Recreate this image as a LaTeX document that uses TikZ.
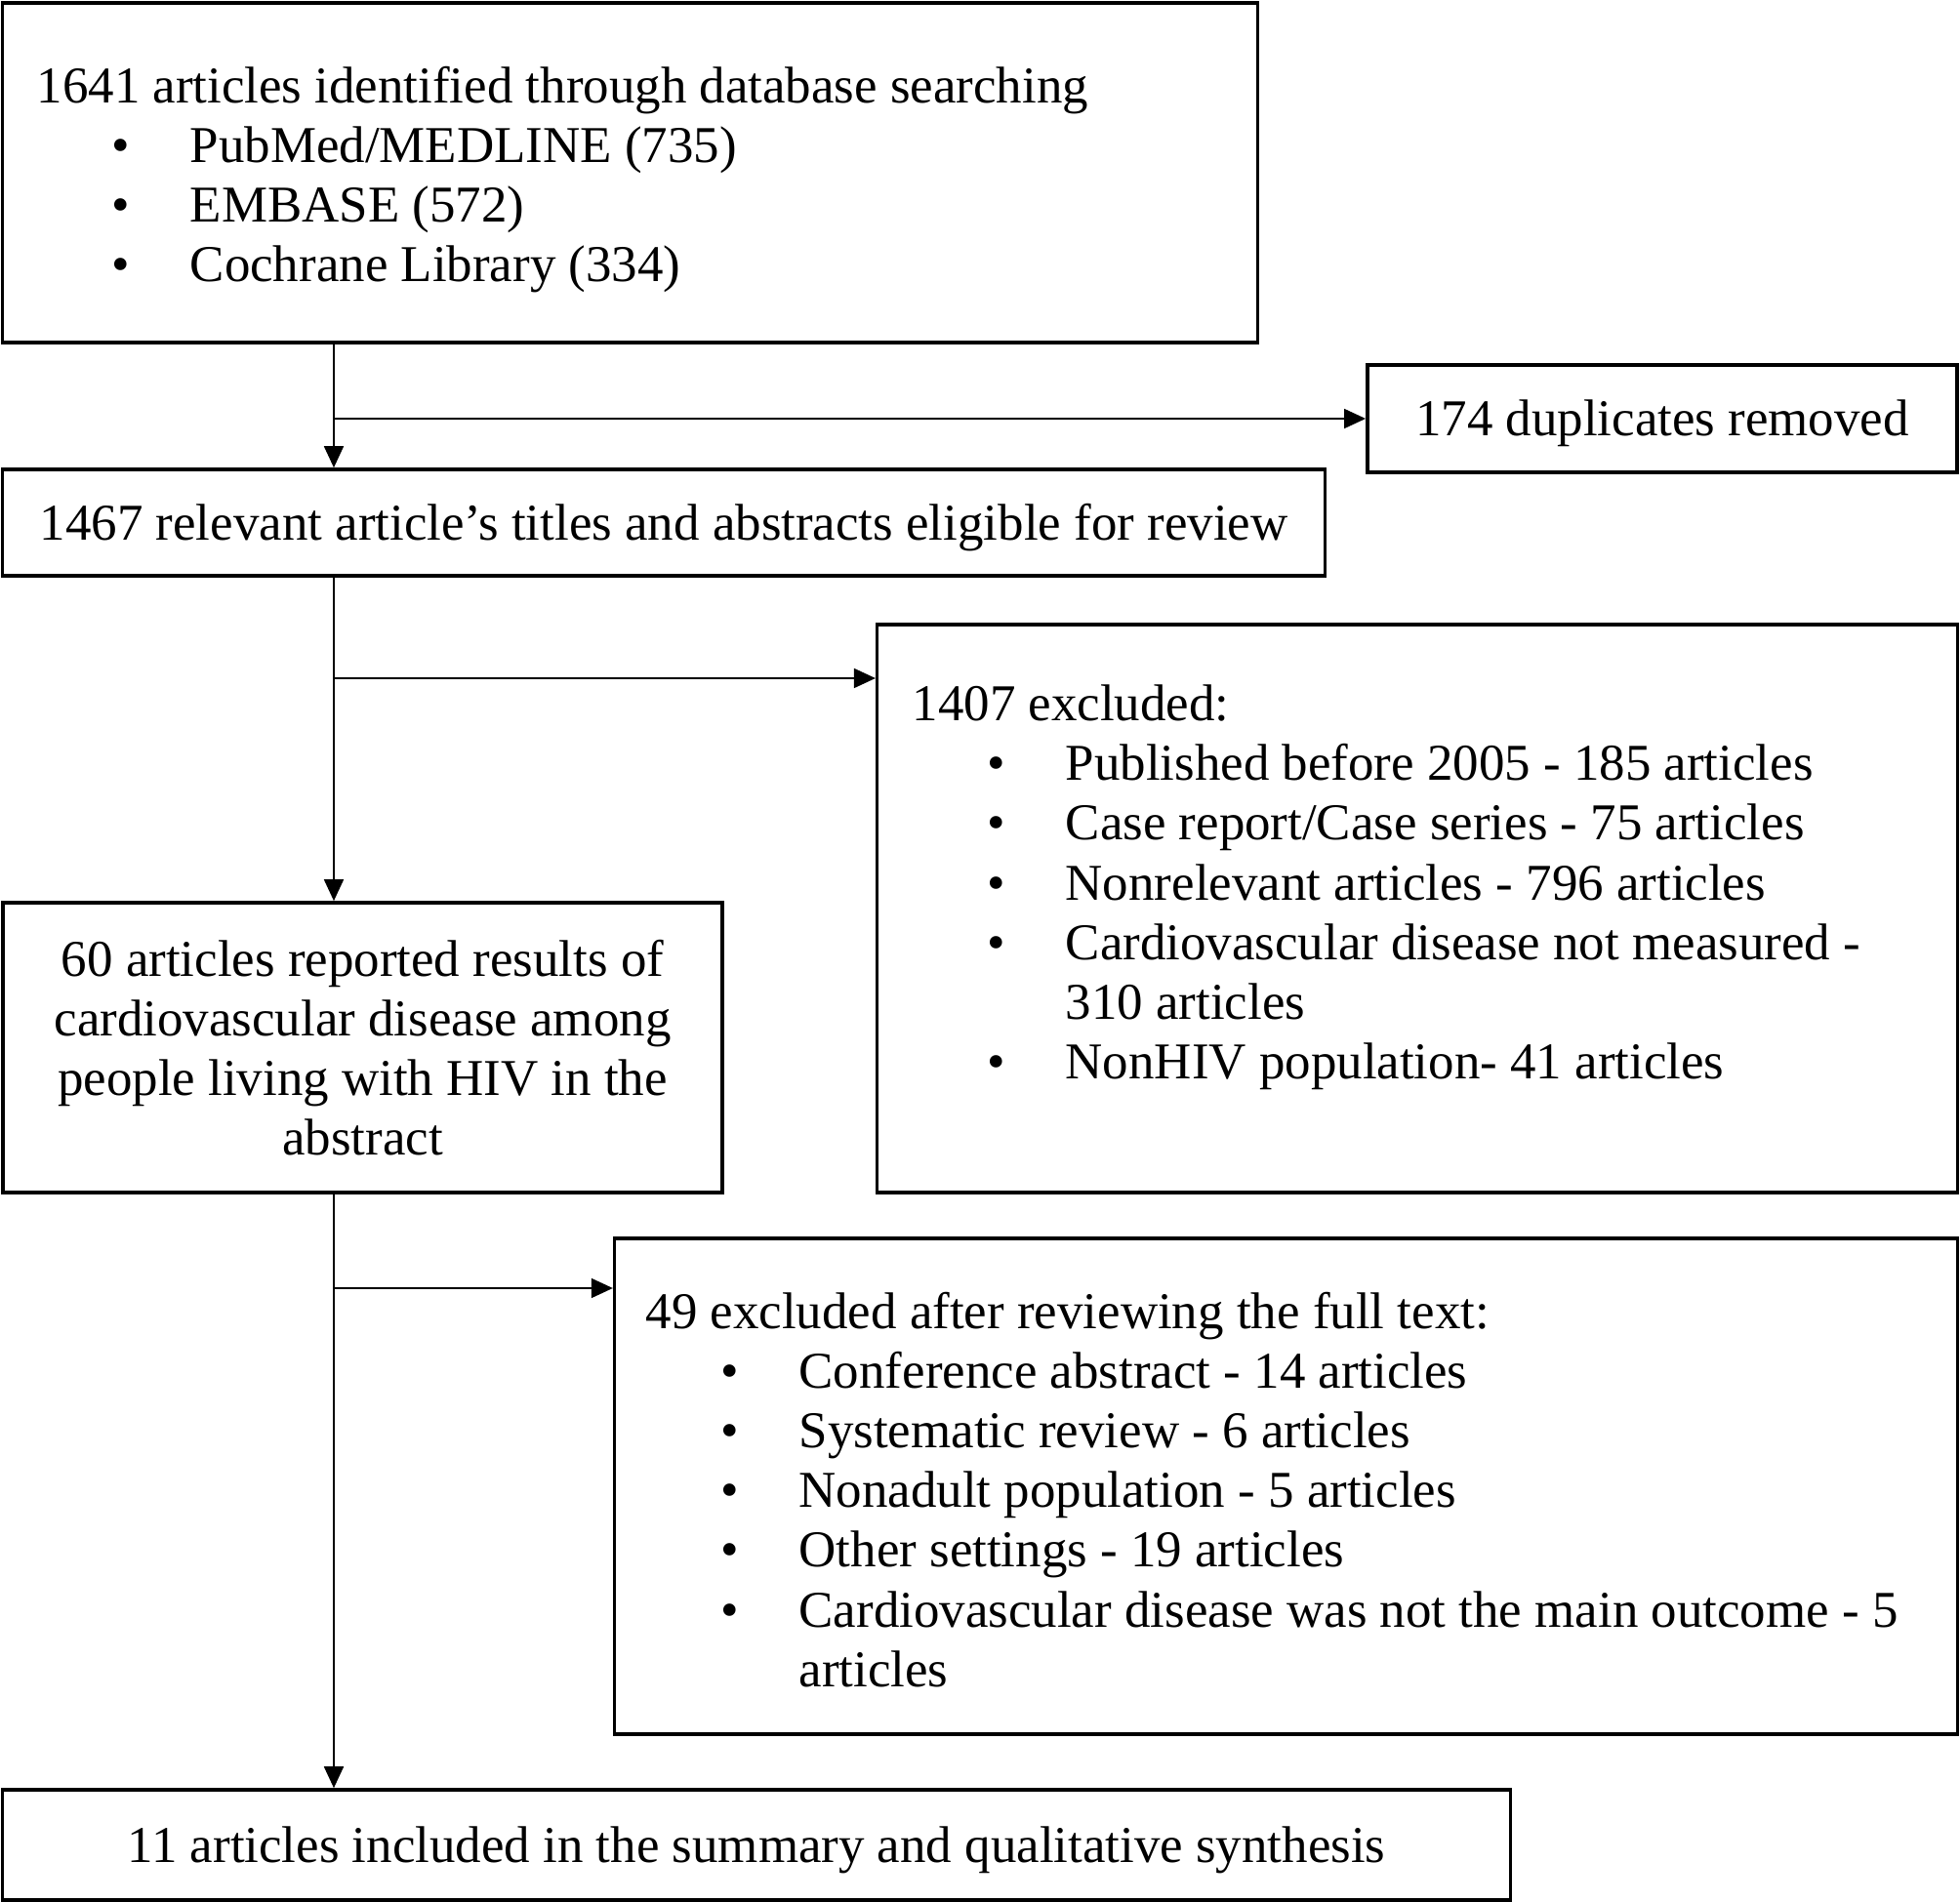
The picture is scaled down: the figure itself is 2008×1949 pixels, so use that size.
\documentclass[tikz,border=0pt]{standalone}
\usepackage{fontspec}
\setmainfont{Liberation Serif}
\usetikzlibrary{arrows.meta}
\newcommand{\bitem}[1]{\hspace*{0.77cm}\makebox[0.8cm][l]{\textbullet}#1}
\newcommand{\bcont}[1]{\hspace*{1.57cm}#1}

\begin{document}
\begin{tikzpicture}[x=0.01cm, y=-0.01cm,
		box/.style={draw, line width=1pt, inner sep=0pt},
		onerow/.style={box, text height=1.02em, text depth=0pt},
		arr/.style={line width=0.5pt, -{Triangle[length=0.22cm, width=0.2cm]}},
		font=\fontsize{15.05}{17.4}\selectfont]
		%%%%% START %%%%%
		\path[fill=white, use as bounding box] (0,0) rectangle (2008,1949);
		
		\node[box, inner xsep=0.35cm] (search) at (645.5,177) {\parbox[c][3.48cm][t]{12.15cm}{\vspace*{0.65cm}1641 articles identified through database searching\\ \bitem{PubMed/MEDLINE (735)}\\ \bitem{EMBASE (572)}\\ \bitem{Cochrane Library (334)}}};
		
		\node[onerow, minimum width=6.04cm, minimum height=1.10cm] (dups) at (1703,429) {174 duplicates removed};
		
		\node[onerow, minimum width=13.54cm, minimum height=1.09cm] (screen) at (680,535.5) {1467 relevant article’s titles and abstracts eligible for review};
		
		\node[box, inner xsep=0.36cm] (excl1) at (1452,931) {\parbox[c][5.82cm][t]{10.34cm}{\vspace*{0.62cm}1407 excluded:\\ \bitem{Published before 2005 - 185 articles}\\ \bitem{Case report/Case series - 75 articles}\\ \bitem{Nonrelevant articles - 796 articles}\\ \bitem{Cardiovascular disease not measured -}\\ \bcont{310 articles}\\ \bitem{NonHIV population- 41 articles}}};
		
		\node[box, text width=6.6cm, inner xsep=0.385cm, minimum height=2.97cm, align=flush center] (incl1) at (371.5,1073.5) {60 articles reported results of\\ cardiovascular disease among\\ people living with HIV in the\\ abstract};
		
		\node[box, inner xsep=0.32cm] (excl2) at (1317.5,1523) {\parbox[c][5.08cm][t]{13.11cm}{\vspace*{0.55cm}49 excluded after reviewing the full text:\\ \bitem{Conference abstract - 14 articles}\\ \bitem{Systematic review - 6 articles}\\ \bitem{Nonadult population - 5 articles}\\ \bitem{Other settings - 19 articles}\\ \bitem{Cardiovascular disease was not the main outcome - 5}\\ \bcont{articles}}};
		
		\node[onerow, minimum width=15.44cm, minimum height=1.13cm] (final) at (775,1890.5) {11 articles included in the summary and qualitative synthesis};
		
		% branch points on the spine
		\coordinate (b1) at (342,429);
		\coordinate (b2) at (342,695);
		\coordinate (b3) at (342,1320);
		
		\draw[arr] (search.south -| b1) -- (screen.north -| b1);
		\draw[arr] (b1) -- (dups.west);
		\draw[arr] (screen.south -| b2) -- (incl1.north -| b2);
		\draw[arr] (b2) -- (b2 -| excl1.west);
		\draw[arr] (incl1.south -| b3) -- (final.north -| b3);
		\draw[arr] (b3) -- (b3 -| excl2.west);
		%%%%% END %%%%%
\end{tikzpicture}
\end{document}
